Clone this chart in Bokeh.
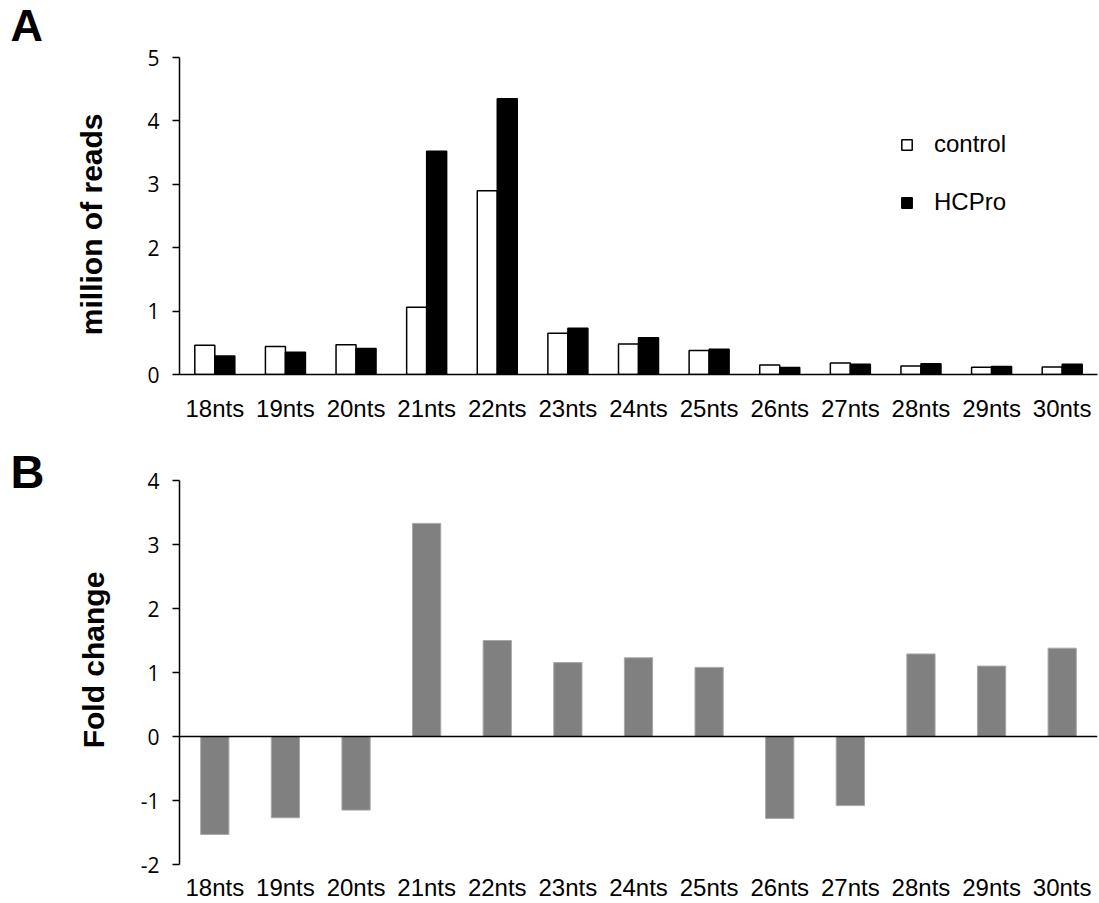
from bokeh.plotting import figure
from bokeh.models import (FactorRange, Range1d, FixedTicker, Span, Legend,
                          LegendItem, ColumnDataSource, Title, Label)
from bokeh.transform import dodge
from bokeh.layouts import column
from bokeh.embed import file_html
from bokeh.resources import INLINE

cats = ["18nts", "19nts", "20nts", "21nts", "22nts", "23nts", "24nts",
        "25nts", "26nts", "27nts", "28nts", "29nts", "30nts"]
control = [0.46, 0.44, 0.47, 1.06, 2.90, 0.65, 0.48, 0.38, 0.15, 0.18, 0.135, 0.115, 0.12]
hcpro = [0.29, 0.35, 0.41, 3.52, 4.35, 0.73, 0.58, 0.40, 0.11, 0.16, 0.17, 0.125, 0.16]
fold = [-1.53, -1.27, -1.15, 3.33, 1.50, 1.155, 1.23, 1.08, -1.28, -1.08, 1.29, 1.10, 1.38]
yticks_a = [0, 1, 2, 3, 4, 5]
yticks_b = [-2, -1, 0, 1, 2, 3, 4]

src = ColumnDataSource(dict(cat=cats, control=control, hcpro=hcpro, fold=fold))

ARIAL = "Liberation Sans"
TICKF = "Open Sans"
NB = "\u00a0"


def style_axes(p, yticks, ytitle, ystandoff, xstandoff, show_xline):
    p.outline_line_color = None
    p.xgrid.visible = False
    p.ygrid.visible = False
    ya = p.yaxis[0]
    ya.ticker = FixedTicker(ticks=yticks)
    ya.major_label_overrides = {t: str(t) for t in yticks}
    ya.axis_line_width = 1.5
    ya.axis_line_color = "black"
    ya.major_tick_line_width = 1.5
    ya.major_tick_line_color = "black"
    ya.major_tick_out = 7
    ya.major_tick_in = 0
    ya.minor_tick_line_color = None
    ya.major_label_text_font = TICKF
    ya.major_label_text_font_size = "21px"
    ya.major_label_text_color = "black"
    ya.major_label_standoff = 13
    ya.axis_label = ytitle
    ya.axis_label_text_font = ARIAL
    ya.axis_label_text_font_style = "bold"
    ya.axis_label_text_font_size = "30px"
    ya.axis_label_text_color = "black"
    ya.axis_label_standoff = ystandoff
    xa = p.xaxis[0]
    xa.major_tick_line_color = None
    xa.minor_tick_line_color = None
    xa.major_tick_out = 0
    xa.major_tick_in = 0
    if show_xline:
        xa.axis_line_width = 1.5
        xa.axis_line_color = "black"
    else:
        xa.axis_line_color = None
    xa.major_label_text_font = ARIAL
    xa.major_label_text_font_size = "24px"
    xa.major_label_text_color = "black"
    xa.major_label_standoff = xstandoff


# Panel A
pA = figure(width=1099, height=425, x_range=FactorRange(*cats),
            y_range=Range1d(0, 5), output_backend="svg", toolbar_location=None,
            min_border_left=179, min_border_right=2, min_border_top=57,
            min_border_bottom=51)
rc = pA.vbar(x=dodge("cat", -0.1416, range=pA.x_range), top="control", bottom=0,
             width=0.2833, source=src, fill_color="white", line_color="black",
             line_width=1.5)
rh = pA.vbar(x=dodge("cat", 0.1416, range=pA.x_range), top="hcpro", bottom=0,
             width=0.2833, source=src, fill_color="black", line_color="black",
             line_width=1.5)
style_axes(pA, yticks_a, "million of reads" + NB * 2, 36, 20, True)

legend = Legend(items=[LegendItem(label="control", renderers=[rc]),
                       LegendItem(label="HCPro", renderers=[rh])],
                location=(721, 158), glyph_width=13, glyph_height=13,
                label_height=28, spacing=30, label_standoff=21, padding=0,
                margin=0, border_line_color=None, background_fill_alpha=0,
                label_text_font=ARIAL, label_text_font_size="24px",
                label_text_color="black")
pA.add_layout(legend)

pA.add_layout(Label(x=-169, y=32, x_units="screen", y_units="screen", text="A",
                    text_baseline="alphabetic", text_font=ARIAL,
                    text_font_style="bold", text_font_size="45px",
                    text_color="black"), "above")

# Panel B
pB = figure(width=1099, height=478, x_range=FactorRange(*cats),
            y_range=Range1d(-2, 4), output_backend="svg", toolbar_location=None,
            min_border_left=179, min_border_right=2, min_border_top=55,
            min_border_bottom=37,
            title=Title(text="B", align="left", offset=-169, standoff=-34,
                        vertical_align="bottom", text_font=ARIAL,
                        text_font_style="bold", text_font_size="47px",
                        text_color="black"))
pB.vbar(x="cat", top="fold", bottom=0, width=0.4, source=src,
        fill_color="#808080", line_color="#a8a8a8", line_width=1)
pB.add_layout(Span(location=0, dimension="width", line_color="black",
                   line_width=1.5))
style_axes(pB, yticks_b, NB * 3 + "Fold change", 28, 9, False)

layout = column(pA, pB, spacing=0)
open("out.html", "w").write(file_html(layout, INLINE))
